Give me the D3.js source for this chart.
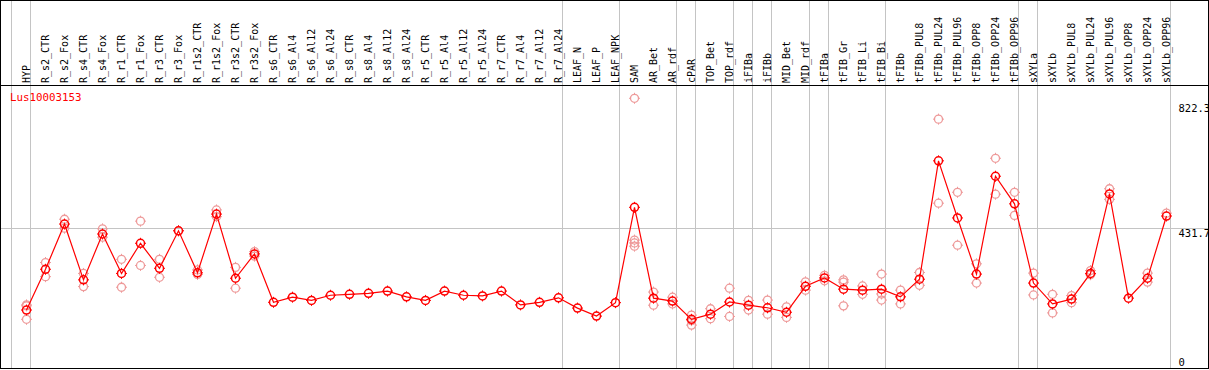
<!DOCTYPE html>
<html><head><meta charset="utf-8">
<script src="https://cdn.jsdelivr.net/npm/d3@7"></script>
<style>
html,body{margin:0;padding:0;background:#fff;}
text{font-family:"DejaVu Sans Mono","Liberation Mono",monospace;}
</style></head>
<body>
<svg id="chart" width="1209" height="370"></svg>
<script>
const categories = ["HYP","R_s2_CTR","R_s2_Fox","R_s4_CTR","R_s4_Fox","R_r1_CTR","R_r1_Fox","R_r3_CTR","R_r3_Fox","R_r1s2_CTR","R_r1s2_Fox","R_r3s2_CTR","R_r3s2_Fox","R_s6_CTR","R_s6_Al4","R_s6_Al12","R_s6_Al24","R_s8_CTR","R_s8_Al4","R_s8_Al12","R_s8_Al24","R_r5_CTR","R_r5_Al4","R_r5_Al12","R_r5_Al24","R_r7_CTR","R_r7_Al4","R_r7_Al12","R_r7_Al24","LEAF_N","LEAF_P","LEAF_NPK","SAM","AR_Bet","AR_rdf","cPAR","TOP_Bet","TOP_rdf","iFIBa","iFIBb","MID_Bet","MID_rdf","tFIBa","tFIB_Gr","tFIB_Li","tFIB_Bi","tFIBb","tFIBb_PUL8","tFIBb_PUL24","tFIBb_PUL96","tFIBb_OPP8","tFIBb_OPP24","tFIBb_OPP96","sXYLa","sXYLb","sXYLb_PUL8","sXYLb_PUL24","sXYLb_PUL96","sXYLb_OPP8","sXYLb_OPP24","sXYLb_OPP96"];

const meanValues = [177,304,445,271,414,291,385,307,424,293,476,276,352,201,217,207,223,226,229,236,218,207,236,223,221,236,193,201,215,183,158,200,497,214,205,148,164,202,192,184,170,251,277,242,239,242,218,273,642,464,289,594,508,261,196,211,291,539,214,276,470];

const replicateValues = [
  [193,148,190],[325,281],[460,432],[291,250],[430,404],[335,248],[454,316],[335,279],[424],[302,288],[489,468],[310,245],[359,345],
  [],[],[],[],[],[],[],[],[],[],[],[],[],[],[],[],[],[],[],
  [837,395,386,376],[233,192],[217,196],[161,130,144],[181,150],[245,157],[207,177],[208,164],[187,154],[265,239],[285,268],[271,190,264],[252,226],[289,208,227],
  [239,196],[294,254],[772,510],[544,379],[321,261],[650,538],[544,472],
  [292,224],[226,168],[222,200],[300,287],[555,522],[],[292,264],[479]
];

const groupEnds = ["HYP","R_r7_Al24","LEAF_NPK","AR_rdf","cPAR","TOP_rdf","iFIBa","iFIBb","MID_rdf","tFIBa","tFIB_Bi","tFIBb_OPP96","sXYLa","sXYLb_OPP96"];
const yTickValues = [0, 431.7, 822.3];
const yTickLabels = ["0", "431.7", "822.3"];
const geneName = "Lus10003153";

const W = 1209, H = 370;
const svg = d3.select("#chart");
svg.append("rect").attr("width", W).attr("height", H).attr("fill", "#fff");

const x = d3.scalePoint().domain(categories).range([26.5, 1166.5]);
const y = d3.scaleLinear().domain([0, 822.3]).range([366.8, 103]);
const step = x.step();

// vertical group separators
const sepX = [x(categories[0]) - step].concat(groupEnds.map(c => x(c))).map(v => Math.floor(v + 4.2) + 0.5);
svg.append("g").selectAll("line").data(sepX).join("line")
  .attr("x1", d => d).attr("x2", d => d).attr("y1", 0).attr("y2", 368)
  .attr("stroke", "#c4c4c4").attr("stroke-width", 1);

// horizontal gridline at middle tick
svg.append("line")
  .attr("x1", 1).attr("x2", 1208).attr("y1", Math.round(y(431.7)) + 0.5).attr("y2", Math.round(y(431.7)) + 0.5)
  .attr("stroke", "#c4c4c4");

// y tick labels (right side)
svg.append("g").selectAll("text").data(yTickValues).join("text")
  .attr("x", 1178.5)
  .attr("y", d => Math.min(y(d) + 9, 366))
  .attr("font-size", "10.5px").attr("fill", "#000")
  .text((d, i) => yTickLabels[i]);

// frame
svg.append("rect").attr("x", 0.5).attr("y", 0.5).attr("width", 1208).attr("height", 368)
  .attr("fill", "none").attr("stroke", "#000").attr("stroke-width", 1);
svg.append("line").attr("x1", 0).attr("x2", 1209).attr("y1", 85.5).attr("y2", 85.5)
  .attr("stroke", "#000").attr("stroke-width", 1.2);

// category labels
svg.append("g").selectAll("text").data(categories).join("text")
  .attr("transform", d => `translate(${x(d) + 3.8},83) rotate(-90)`)
  .attr("font-size", "10px").attr("fill", "#000").attr("text-anchor", "start")
  .text(d => d);

// gene name
svg.append("text").attr("x", 10).attr("y", 101).attr("font-size", "10.8px").attr("fill", "#ff0000").text(geneName);

function marker(g, color, sw) {
  g.append("circle").attr("r", 4).attr("fill", "none").attr("stroke", color).attr("stroke-width", sw);
  [[0,-4,0,-5.5],[0,4,0,5.5],[-4,0,-5.5,0],[4,0,5.5,0]].forEach(t => {
    g.append("line").attr("x1", t[0]).attr("y1", t[1]).attr("x2", t[2]).attr("y2", t[3])
      .attr("stroke", color).attr("stroke-width", 1);
  });
}

// replicates
const reps = [];
replicateValues.forEach((arr, i) => arr.forEach(v => reps.push({c: categories[i], v})));
svg.append("g").selectAll("g").data(reps).join("g")
  .attr("transform", d => `translate(${x(d.c)},${y(d.v)})`)
  .each(function() { marker(d3.select(this), "#ee9a9a", 1.3); });

// mean line
const line = d3.line().x((d, i) => x(categories[i])).y(d => y(d));
svg.append("path").datum(meanValues).attr("d", line)
  .attr("fill", "none").attr("stroke", "#ff0000").attr("stroke-width", 1.2);

// mean markers
svg.append("g").selectAll("g").data(meanValues).join("g")
  .attr("transform", (d, i) => `translate(${x(categories[i])},${y(d)})`)
  .each(function() { marker(d3.select(this), "#ff0000", 1.5); });
</script>
</body></html>
